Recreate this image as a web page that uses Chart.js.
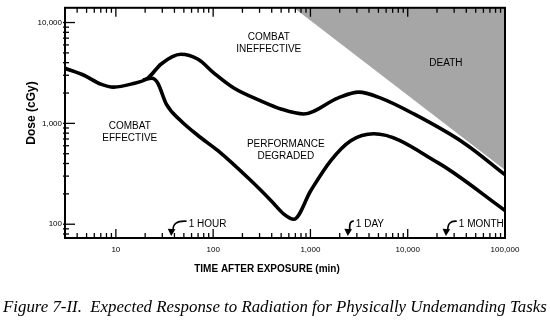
<!DOCTYPE html>
<html>
<head>
<meta charset="utf-8">
<script src="https://cdn.jsdelivr.net/npm/chart.js@4.4.1/dist/chart.umd.min.js"></script>
<style>
  html, body { margin: 0; padding: 0; background: #fff; }
  #wrap { width: 550px; height: 329px; }
</style>
</head>
<body>
<div id="wrap"><canvas id="chart" width="550" height="329"></canvas></div>
<script>
// --- data (time in min, dose in cGy) ---
const upperTime = [3, 4.7, 7, 9.5, 14.3, 21.3, 29, 46.5, 70, 102, 163, 309, 496, 855, 1910, 3140, 5290, 11560, 37760, 100000];
const upperDose = [3520, 3000, 2450, 2290, 2450, 2810, 3860, 4840, 4320, 3150, 2240, 1670, 1390, 1240, 1780, 2040, 1780, 1240, 640, 310];

const lowerTime = [19, 23.5, 27, 33, 46.5, 74.8, 112, 244, 392, 533, 675, 1010, 1620, 2600, 4490, 20370, 100000];
const lowerDose = [2700, 2800, 2500, 1550, 1060, 720, 536, 271, 172, 126, 112, 216, 428, 673, 788, 408, 137];

const deathTime = [675, 100000];
const deathDose = [14000, 345];

const xTicks = [10, 100, 1000, 10000, 100000];
const yTicks = [100, 1000, 10000];

const regionLabels = [['COMBAT', 'INEFFECTIVE'], ['DEATH'], ['COMBAT', 'EFFECTIVE'], ['PERFORMANCE', 'DEGRADED']];
const regionTime = [373, 24700, 13.9, 558];
const regionDose = [6280, 3945, 824, 536];

const markerLabels = ['1 HOUR', '1 DAY', '1 MONTH'];
const markerTime = [37, 2420, 24700];       // where the arrow points
const markerLabelTime = [56, 2930, 33500];  // left edge of the text

const xTitle = 'TIME AFTER EXPOSURE (min)';
const yTitle = 'Dose (cGy)';
const caption = 'Figure 7-II.  Expected Response to Radiation for Physically Undemanding Tasks';

const toPoints = (xs, ys) => xs.map((v, i) => ({ x: v, y: ys[i] }));
const sans = '"Liberation Sans", Arial, sans-serif';

// --- frame, inward ticks, labels, arrows, titles ---
const decorations = {
    id: 'decorations',
    afterDraw(chart) {
        const { ctx, chartArea: a, scales: { x, y } } = chart;
        const seg = (x1, y1, x2, y2) => { ctx.beginPath(); ctx.moveTo(x1, y1); ctx.lineTo(x2, y2); ctx.stroke(); };
        ctx.save();
        ctx.strokeStyle = '#000';
        ctx.fillStyle = '#000';

        ctx.lineWidth = 2;
        ctx.strokeRect(a.left, a.top, a.right - a.left, a.bottom - a.top);

        ctx.lineWidth = 1.3;
        for (let e = 0; e <= 5; e++) {
            for (let m = 1; m <= 9; m++) {
                const v = m * Math.pow(10, e);
                if (v > x.min && v < x.max) {
                    const px = x.getPixelForValue(v);
                    const len = m === 1 ? 9 : 5;
                    seg(px, a.bottom, px, a.bottom - len);
                    seg(px, a.top, px, a.top + len);
                }
                if (v > y.min && v < y.max) {
                    const py = y.getPixelForValue(v);
                    const len = m === 1 ? 10 : 4;
                    seg(a.left - 2, py, a.left + len, py);
                }
            }
        }

        // region labels
        ctx.font = '10px ' + sans;
        ctx.textAlign = 'center';
        ctx.textBaseline = 'middle';
        regionLabels.forEach((lines, i) => {
            const cx = x.getPixelForValue(regionTime[i]);
            const cy = y.getPixelForValue(regionDose[i]);
            lines.forEach((t, j) => ctx.fillText(t, cx, cy + (j - (lines.length - 1) / 2) * 12));
        });

        // time markers with curved arrows
        ctx.textAlign = 'left';
        const tipY = a.bottom - 2;
        markerLabels.forEach((t, i) => {
            const lx = x.getPixelForValue(markerLabelTime[i]);
            const ly = y.getPixelForValue(100);
            ctx.fillText(t, lx, ly);
            const tx = x.getPixelForValue(markerTime[i]);
            const sx = lx - 2, sy = ly - 3;
            const cpx = tx + 1, cpy = sy - 1;
            ctx.lineWidth = 1.6;
            ctx.beginPath();
            ctx.moveTo(sx, sy);
            ctx.quadraticCurveTo(cpx, cpy, tx + 2, tipY - 5);
            ctx.stroke();
            const ang = Math.atan2(tipY - cpy, tx - cpx);
            ctx.beginPath();
            ctx.moveTo(tx, tipY);
            ctx.lineTo(tx - 8 * Math.cos(ang - 0.5), tipY - 8 * Math.sin(ang - 0.5));
            ctx.lineTo(tx - 8 * Math.cos(ang + 0.5), tipY - 8 * Math.sin(ang + 0.5));
            ctx.closePath();
            ctx.fill();
        });

        // axis titles
        ctx.font = 'bold 10px ' + sans;
        ctx.textAlign = 'center';
        ctx.fillText(xTitle, 267, 269);
        ctx.save();
        ctx.translate(32, 113);
        ctx.rotate(-Math.PI / 2);
        ctx.font = 'bold 12px ' + sans;
        ctx.fillText(yTitle, 0, 0);
        ctx.restore();

        // caption
        ctx.font = 'italic 14px "Liberation Serif", "Times New Roman", serif';
        const w = ctx.measureText(caption).width;
        ctx.font = 'italic ' + (14 * 544 / w).toFixed(2) + 'px "Liberation Serif", "Times New Roman", serif';
        ctx.textAlign = 'left';
        ctx.fillText(caption, 3, 308);
        ctx.restore();
    }
};

const ctx = document.getElementById('chart').getContext('2d');
new Chart(ctx, {
    type: 'line',
    data: {
        datasets: [
            { data: toPoints(upperTime, upperDose), borderColor: '#000', borderWidth: 3.6, pointRadius: 0, cubicInterpolationMode: 'monotone', fill: false },
            { data: toPoints(lowerTime, lowerDose), borderColor: '#000', borderWidth: 3.6, pointRadius: 0, cubicInterpolationMode: 'monotone', fill: false },
            { data: toPoints(deathTime, deathDose), borderWidth: 0, pointRadius: 0, backgroundColor: '#a6a6a6', fill: 'end' }
        ]
    },
    options: {
        responsive: false,
        animation: false,
        devicePixelRatio: 1,
        layout: { padding: { top: 6, right: 45, left: 0, bottom: 0 } },
        plugins: { legend: { display: false }, tooltip: { enabled: false } },
        scales: {
            x: {
                type: 'logarithmic', min: 3, max: 100000,
                grid: { display: false, drawTicks: false }, border: { display: false },
                afterBuildTicks: s => { s.ticks = xTicks.map(v => ({ value: v })); },
                afterFit: s => { s.height = 91; },
                ticks: { padding: 7, autoSkip: false, maxRotation: 0, color: '#000', font: { size: 8, family: sans },
                         callback: v => Number(v).toLocaleString('en-US') }
            },
            y: {
                type: 'logarithmic', min: 73, max: 14000,
                grid: { display: false, drawTicks: false }, border: { display: false },
                afterBuildTicks: s => { s.ticks = yTicks.map(v => ({ value: v })); },
                afterFit: s => { s.width = 65; },
                ticks: { padding: 3, autoSkip: false, color: '#000', font: { size: 8, family: sans },
                         callback: v => Number(v).toLocaleString('en-US') }
            }
        }
    },
    plugins: [decorations]
});
</script>
</body>
</html>
